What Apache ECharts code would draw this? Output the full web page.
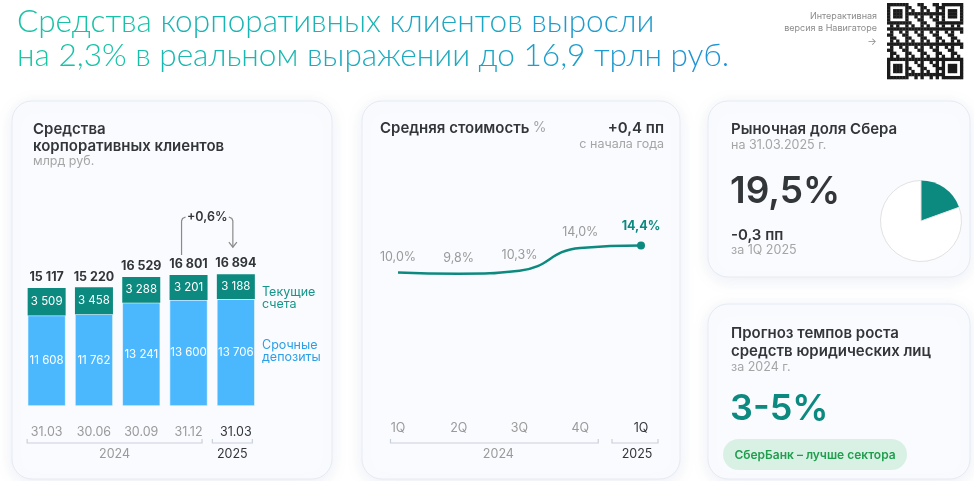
<!DOCTYPE html>
<html><head><meta charset="utf-8">
<script src="https://cdn.jsdelivr.net/npm/echarts@6/dist/echarts.min.js"></script>
<style>html,body{margin:0;padding:0;background:#fff}#c{width:974px;height:481px}</style>
</head><body><div id="c"></div>
<script>
// ---- data ----
const dates = ['31.03', '30.06', '30.09', '31.12', '31.03'];
const currentAccounts = [3509, 3458, 3288, 3201, 3188];
const termDeposits = [11608, 11762, 13241, 13600, 13706];
const quarters = ['1Q', '2Q', '3Q', '4Q', '1Q'];
const avgCost = [10.0, 9.8, 10.3, 14.0, 14.4];
const years = ['2024', '2025'];
const marketShare = 19.5;
const changeLabel = '+0,6%';

const FF = 'Inter, "Noto Sans", sans-serif';
const TEAL = '#0c8a80', BLUE = '#4bb8fe', DARK = '#333639', GREY = '#9a9a9a';
const totals = termDeposits.map((d, i) => d + currentAccounts[i]);
const fmtNum = v => String(v).replace(/\B(?=(\d{3})+(?!\d))/g, ' ');
const fmtPct = v => v.toFixed(1).replace('.', ',') + '%';
const last = dates.length - 1;

const chart = echarts.init(document.getElementById('c'));
const catData = (arr) => arr.map((v, i) => i === arr.length - 1 ? { value: v, textStyle: { color: DARK } } : v);

chart.setOption({
  animation: false,
  backgroundColor: '#ffffff',
  textStyle: { fontFamily: FF },
  grid: [
    { left: 23, width: 236.5, top: 250, height: 156 },
    { left: 398, width: 243, top: 211, height: 123 }
  ],
  xAxis: [
    { gridIndex: 0, type: 'category', data: catData(dates), axisLine: { show: false }, axisTick: { show: false },
      axisLabel: { margin: 20, color: GREY, fontSize: 12.5, fontFamily: FF } },
    { gridIndex: 1, type: 'category', boundaryGap: false, data: catData(quarters), axisLine: { show: false }, axisTick: { show: false },
      axisLabel: { margin: 88, color: GREY, fontSize: 12.5, fontFamily: FF } }
  ],
  yAxis: [
    { gridIndex: 0, type: 'value', min: 0, max: 20000, show: false },
    { gridIndex: 1, type: 'value', min: 0, max: 20, show: false }
  ],
  series: [
    { type: 'bar', name: 'Срочные депозиты', stack: 'a', xAxisIndex: 0, yAxisIndex: 0, data: termDeposits, barWidth: 38,
      itemStyle: { color: BLUE, borderColor: '#fafbfe', borderWidth: 0.6 },
      label: { show: true, position: 'inside', color: '#fff', fontSize: 11.5, fontFamily: FF, formatter: p => fmtNum(p.value) } },
    { type: 'bar', name: 'Текущие счета', stack: 'a', xAxisIndex: 0, yAxisIndex: 0, data: currentAccounts, barWidth: 38,
      itemStyle: { color: TEAL },
      label: { show: true, position: 'inside', color: '#fff', fontSize: 11.5, fontFamily: FF, formatter: p => fmtNum(p.value) } },
    { type: 'line', xAxisIndex: 0, yAxisIndex: 0, data: totals, symbol: 'circle', symbolSize: 0, lineStyle: { opacity: 0 },
      label: { show: true, position: 'top', distance: 4, color: DARK, fontSize: 12.5, fontWeight: 'bold', fontFamily: FF, formatter: p => fmtNum(p.value) } },
    { type: 'line', xAxisIndex: 1, yAxisIndex: 1, smooth: 0.5, symbol: 'circle',
      data: avgCost.map((v, i) => ({
        value: v, symbolSize: i === avgCost.length - 1 ? 8 : 0,
        label: i === avgCost.length - 1 ? { color: TEAL, fontWeight: 'bold' } : {}
      })),
      lineStyle: { color: TEAL, width: 2.5 }, itemStyle: { color: TEAL },
      label: { show: true, position: 'top', distance: 9, color: GREY, fontSize: 12.5, fontFamily: FF, formatter: p => fmtPct(p.value) } },
    { type: 'pie', center: [921, 221], radius: 40.5, startAngle: 90, clockwise: true, silent: true,
      label: { show: false }, labelLine: { show: false },
      data: [
        { value: marketShare, itemStyle: { color: TEAL, borderWidth: 0 } },
        { value: 100 - marketShare, itemStyle: { color: '#ffffff', borderColor: '#e2e2e2', borderWidth: 1 } }
      ] }
  ]
});

// ---- decorations ----
const P = (gi, i, v) => chart.convertToPixel({ gridIndex: gi }, [i, v]);
const g = [];
const card = (x, y, w, h) => g.push({ type: 'rect', z: -10, shape: { x, y, width: w, height: h, r: 20 },
  style: { fill: '#fafbfe', stroke: '#e6eaf3', lineWidth: 1, shadowBlur: 16, shadowOffsetY: 3, shadowColor: 'rgba(110,130,170,0.13)' } });
card(12, 101, 320, 378);
card(362, 101, 318, 378);
card(708, 101, 262, 176);
card(708, 304, 262, 175);

const txt = (x, y, text, o) => g.push({ type: 'text', z: 5, x, y, style: Object.assign({ text, fontFamily: FF, fontSize: 12, fill: GREY, textVerticalAlign: 'middle' }, o) });

// gradient title: words coloured by their horizontal position
const TS = 31.6;
const mctx = document.createElement('canvas').getContext('2d');
mctx.font = '300 ' + TS + 'px Lato';
const c0 = [22, 201, 160], c1 = [33, 146, 216];
const mix = t => 'rgb(' + c0.map((a, k) => Math.round(a + (c1[k] - a) * t)).join(',') + ')';
function gradTitle(x, y, line) {
  const words = line.split(' ');
  let acc = '', parts = [];
  const rich = {};
  words.forEach((w, i) => {
    const pre = acc + (i ? ' ' : '');
    const mid = mctx.measureText(pre + w.slice(0, Math.ceil(w.length / 2))).width;
    const key = 'w' + i;
    rich[key] = { fill: mix(Math.min(1, (x + mid) / 730)), fontFamily: 'Lato, ' + FF, fontSize: TS, fontWeight: 300 };
    parts.push('{' + key + '|' + w + '}');
    acc = pre + w;
  });
  g.push({ type: 'text', z: 5, x, y, style: { text: parts.join(' '), textVerticalAlign: 'middle', fontFamily: 'Lato, ' + FF, fontSize: TS, fontWeight: 300, rich } });
}
gradTitle(17, 22, 'Средства корпоративных клиентов выросли');
gradTitle(17, 56, 'на 2,3% в реальном выражении до 16,9 трлн руб.');

txt(877, 16, 'Интерактивная', { fontSize: 9, fill: '#8c8c8c', textAlign: 'right' });
txt(877, 28, 'версия в Навигаторе', { fontSize: 9, fill: '#8c8c8c', textAlign: 'right' });
txt(872, 42, '→', { fontSize: 10, fill: '#8c8c8c', textAlign: 'center' });

// QR-like block
(function () {
  const N = 25, s = 76 / N, x0 = 887, y0 = 3;
  const finder = (r, c) => {
    const inF = (r0, c0) => r >= r0 && r < r0 + 7 && c >= c0 && c < c0 + 7;
    for (const [r0, c0] of [[0, 0], [0, N - 7], [N - 7, 0], [N - 7, N - 7]]) {
      if (inF(r0, c0)) { const a = r - r0, b = c - c0; return (a === 0 || a === 6 || b === 0 || b === 6 || (a >= 2 && a <= 4 && b >= 2 && b <= 4)) ? 1 : 0; }
    }
    return -1;
  };
  for (let r = 0; r < N; r++) for (let c = 0; c < N; c++) {
    let f = finder(r, c);
    if (f === -1) f = ((r * 7 + c * 11 + r * c * 3) % 5) < 2 ? 1 : 0;
    if (f) g.push({ type: 'rect', z: 5, shape: { x: x0 + c * s, y: y0 + r * s, width: s + 0.3, height: s + 0.3 }, style: { fill: '#1b1b1b' } });
  }
})();

// card 1
txt(33, 129, 'Средства', { fontSize: 15, fontWeight: 600, fill: DARK });
txt(33, 146, 'корпоративных клиентов', { fontSize: 15, fontWeight: 600, fill: DARK });
txt(33, 161, 'млрд руб.', { fontSize: 12.5, fill: '#a5a5a5' });
txt(262, 292, 'Текущие', { fontSize: 12.5, fill: '#14968b' });
txt(262, 304, 'счета', { fontSize: 12.5, fill: '#14968b' });
txt(262, 345, 'Срочные', { fontSize: 12.5, fill: '#2b9fe6' });
txt(262, 357, 'депозиты', { fontSize: 12.5, fill: '#2b9fe6' });

const bracket = (xa, xb, y) => g.push({ type: 'polyline', z: 5, shape: { points: [[xa, y - 4], [xa, y], [xb, y], [xb, y - 4]] }, style: { stroke: '#c9d0dc', lineWidth: 1.2, fill: null } });
const b0 = P(0, 0, 0), b3 = P(0, 3, 0), b4 = P(0, last, 0);
const yb = b0[1] + 37;
bracket(b0[0] - 19.5, b3[0] + 13.5, yb);
bracket(b4[0] - 23.5, b4[0] + 16.5, yb);
txt((b0[0] - 19.5 + b3[0] + 13.5) / 2, yb + 11, years[0], { textAlign: 'center', fill: GREY, fontSize: 12.5 });
txt(b4[0] - 3.5, yb + 11, years[1], { textAlign: 'center', fill: DARK, fontSize: 12.5 });

// growth annotation
const t3 = P(0, 3, totals[3]), t4 = P(0, last, totals[last]);
const xl = t3[0] - 7, xr = t4[0] - 3, ya = t3[1] - 58;
const ln = { stroke: '#8a8a8a', lineWidth: 1.2, fill: null };
g.push({ type: 'polyline', z: 5, shape: { points: [[xl, t3[1] - 20], [xl, ya + 4], [xl + 1, ya + 1.5], [xl + 4, ya]] }, style: ln });
g.push({ type: 'polyline', z: 5, shape: { points: [[xr - 4, ya], [xr - 1, ya + 1.5], [xr, ya + 4], [xr, t4[1] - 27]] }, style: ln });
g.push({ type: 'polyline', z: 5, shape: { points: [[xr - 4, t4[1] - 32], [xr, t4[1] - 27], [xr + 4, t4[1] - 32]] }, style: ln });
txt((xl + xr) / 2, ya, changeLabel, { textAlign: 'center', fontSize: 12.5, fontWeight: 600, fill: DARK });

// card 2
g.push({ type: 'text', z: 5, x: 380, y: 128, style: { text: '{a|Средняя стоимость} {b|%}', textVerticalAlign: 'middle', rich: { a: { fontFamily: FF, fontSize: 15, fontWeight: 600, fill: DARK }, b: { fontFamily: FF, fontSize: 14, fill: '#a5a5a5' } } } });
txt(664, 128, '+0,4 пп', { fontSize: 15, fontWeight: 600, fill: DARK, textAlign: 'right' });
txt(664, 144, 'с начала года', { fontSize: 12.5, fill: '#a5a5a5', textAlign: 'right' });
const l0 = P(1, 0, 0), l3 = P(1, 3, 0), l4 = P(1, last, 0);
const yl = 443;
bracket(l0[0] - 7.5, l3[0] + 18, yl);
bracket(l4[0] - 29, l4[0] + 17, yl);
txt((l0[0] - 7.5 + l3[0] + 18) / 2 + 4, yl + 11, years[0], { textAlign: 'center', fill: GREY, fontSize: 12.5 });
txt(l4[0] - 4, yl + 11, years[1], { textAlign: 'center', fill: DARK, fontSize: 12.5 });

// card 3
txt(731, 129, 'Рыночная доля Сбера', { fontSize: 15, fontWeight: 600, fill: DARK });
txt(731, 145, 'на 31.03.2025 г.', { fontSize: 12.5, fill: '#a5a5a5' });
txt(730, 192, fmtPct(marketShare), { fontSize: 37, fontWeight: 600, fill: DARK });
txt(731, 235, '-0,3 пп', { fontSize: 15, fontWeight: 600, fill: DARK });
txt(731, 250, 'за 1Q 2025', { fontSize: 12.5, fill: '#a5a5a5' });

// card 4
txt(731, 333, 'Прогноз темпов роста', { fontSize: 15, fontWeight: 600, fill: DARK });
txt(731, 351, 'средств юридических лиц', { fontSize: 15, fontWeight: 600, fill: DARK });
txt(731, 367, 'за 2024 г.', { fontSize: 12.5, fill: '#a5a5a5' });
txt(730, 409, '3-5%', { fontSize: 36, fontWeight: 600, fill: TEAL });
g.push({ type: 'rect', z: 4, shape: { x: 723, y: 439, width: 184, height: 31, r: 15.5 }, style: { fill: '#d9f1e5' } });
txt(815, 455, 'СберБанк – лучше сектора', { fontSize: 12, fontWeight: 600, fill: '#1f9e4e', textAlign: 'center' });

chart.setOption({ graphic: g });
</script>
</body></html>
